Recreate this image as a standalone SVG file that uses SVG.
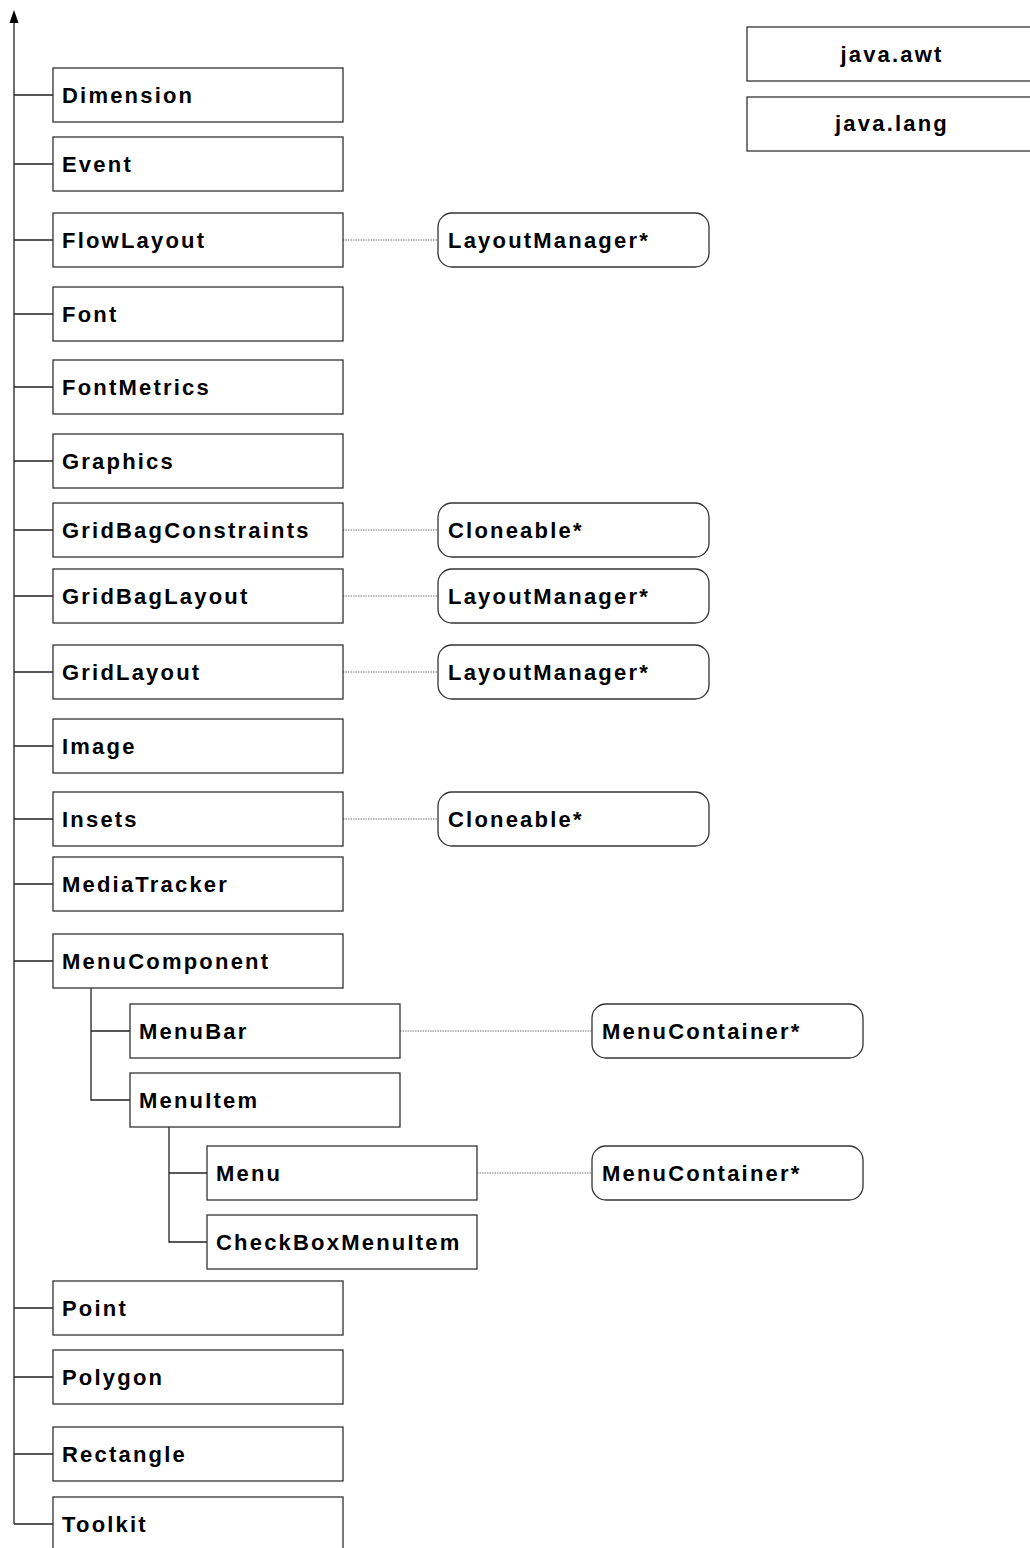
<svg xmlns="http://www.w3.org/2000/svg" width="1030" height="1548" viewBox="0 0 1030 1548">
<defs>
<style>
.box{fill:#fff;stroke:#333;stroke-width:1.3}
.rbox{fill:#fff;stroke:#333;stroke-width:1.3}
.t{font-family:"Liberation Sans",Arial,sans-serif;font-weight:bold;font-size:22px;letter-spacing:2.2px;fill:#000}
.tc{font-family:"Liberation Sans",Arial,sans-serif;font-weight:bold;font-size:22px;letter-spacing:2.2px;fill:#000;text-anchor:middle}
.ln{stroke:#222;stroke-width:1.3;fill:none}
.dot{stroke:#777;stroke-width:1;stroke-dasharray:1.5 1;fill:none}
</style>
</defs>
<rect width="1030" height="1548" fill="#fff"/>
<g id="connectors">
<path class="ln" d="M14,1524 L14,20"/>
<polygon points="14,10 9.5,23 18.5,23" fill="#000"/>
<path class="ln" d="M14,95H53 M14,164H53 M14,240H53 M14,314H53 M14,387H53 M14,461H53 M14,530H53 M14,596H53 M14,672H53 M14,746H53 M14,819H53 M14,884H53 M14,961H53 M14,1308H53 M14,1377H53 M14,1454H53 M14,1524H53"/>
<path class="ln" d="M91,988V1100H130 M91,1031H130"/>
<path class="ln" d="M169,1127V1242H207 M169,1173H207"/>
<path class="dot" d="M343,240H438 M343,530H438 M343,596H438 M343,672H438 M343,819H438 M400,1031H592 M477,1173H592"/>
</g>
<g id="java-awt"><rect class="box" x="747" y="27" width="290" height="54"/><text class="tc" x="892" y="62">java.awt</text></g>
<g id="java-lang"><rect class="box" x="747" y="97" width="290" height="54"/><text class="tc" x="892" y="131">java.lang</text></g>
<g id="Dimension"><rect class="box" x="53" y="68" width="290" height="54"/><text class="t" x="62" y="103">Dimension</text></g>
<g id="Event"><rect class="box" x="53" y="137" width="290" height="54"/><text class="t" x="62" y="172">Event</text></g>
<g id="FlowLayout"><rect class="box" x="53" y="213" width="290" height="54"/><text class="t" x="62" y="248">FlowLayout</text></g>
<g id="Font"><rect class="box" x="53" y="287" width="290" height="54"/><text class="t" x="62" y="322">Font</text></g>
<g id="FontMetrics"><rect class="box" x="53" y="360" width="290" height="54"/><text class="t" x="62" y="395">FontMetrics</text></g>
<g id="Graphics"><rect class="box" x="53" y="434" width="290" height="54"/><text class="t" x="62" y="469">Graphics</text></g>
<g id="GridBagConstraints"><rect class="box" x="53" y="503" width="290" height="54"/><text class="t" x="62" y="538">GridBagConstraints</text></g>
<g id="GridBagLayout"><rect class="box" x="53" y="569" width="290" height="54"/><text class="t" x="62" y="604">GridBagLayout</text></g>
<g id="GridLayout"><rect class="box" x="53" y="645" width="290" height="54"/><text class="t" x="62" y="680">GridLayout</text></g>
<g id="Image"><rect class="box" x="53" y="719" width="290" height="54"/><text class="t" x="62" y="754">Image</text></g>
<g id="Insets"><rect class="box" x="53" y="792" width="290" height="54"/><text class="t" x="62" y="827">Insets</text></g>
<g id="MediaTracker"><rect class="box" x="53" y="857" width="290" height="54"/><text class="t" x="62" y="892">MediaTracker</text></g>
<g id="MenuComponent"><rect class="box" x="53" y="934" width="290" height="54"/><text class="t" x="62" y="969">MenuComponent</text></g>
<g id="MenuBar"><rect class="box" x="130" y="1004" width="270" height="54"/><text class="t" x="139" y="1039">MenuBar</text></g>
<g id="MenuItem"><rect class="box" x="130" y="1073" width="270" height="54"/><text class="t" x="139" y="1108">MenuItem</text></g>
<g id="Menu"><rect class="box" x="207" y="1146" width="270" height="54"/><text class="t" x="216" y="1181">Menu</text></g>
<g id="CheckBoxMenuItem"><rect class="box" x="207" y="1215" width="270" height="54"/><text class="t" x="216" y="1250">CheckBoxMenuItem</text></g>
<g id="Point"><rect class="box" x="53" y="1281" width="290" height="54"/><text class="t" x="62" y="1316">Point</text></g>
<g id="Polygon"><rect class="box" x="53" y="1350" width="290" height="54"/><text class="t" x="62" y="1385">Polygon</text></g>
<g id="Rectangle"><rect class="box" x="53" y="1427" width="290" height="54"/><text class="t" x="62" y="1462">Rectangle</text></g>
<g id="Toolkit"><rect class="box" x="53" y="1497" width="290" height="54"/><text class="t" x="62" y="1532">Toolkit</text></g>
<g id="LayoutManager-1"><rect class="rbox" x="438" y="213" width="271" height="54" rx="14"/><text class="t" x="448" y="248">LayoutManager*</text></g>
<g id="Cloneable-1"><rect class="rbox" x="438" y="503" width="271" height="54" rx="14"/><text class="t" x="448" y="538">Cloneable*</text></g>
<g id="LayoutManager-2"><rect class="rbox" x="438" y="569" width="271" height="54" rx="14"/><text class="t" x="448" y="604">LayoutManager*</text></g>
<g id="LayoutManager-3"><rect class="rbox" x="438" y="645" width="271" height="54" rx="14"/><text class="t" x="448" y="680">LayoutManager*</text></g>
<g id="Cloneable-2"><rect class="rbox" x="438" y="792" width="271" height="54" rx="14"/><text class="t" x="448" y="827">Cloneable*</text></g>
<g id="MenuContainer-1"><rect class="rbox" x="592" y="1004" width="271" height="54" rx="14"/><text class="t" x="602" y="1039">MenuContainer*</text></g>
<g id="MenuContainer-2"><rect class="rbox" x="592" y="1146" width="271" height="54" rx="14"/><text class="t" x="602" y="1181">MenuContainer*</text></g>
</svg>
